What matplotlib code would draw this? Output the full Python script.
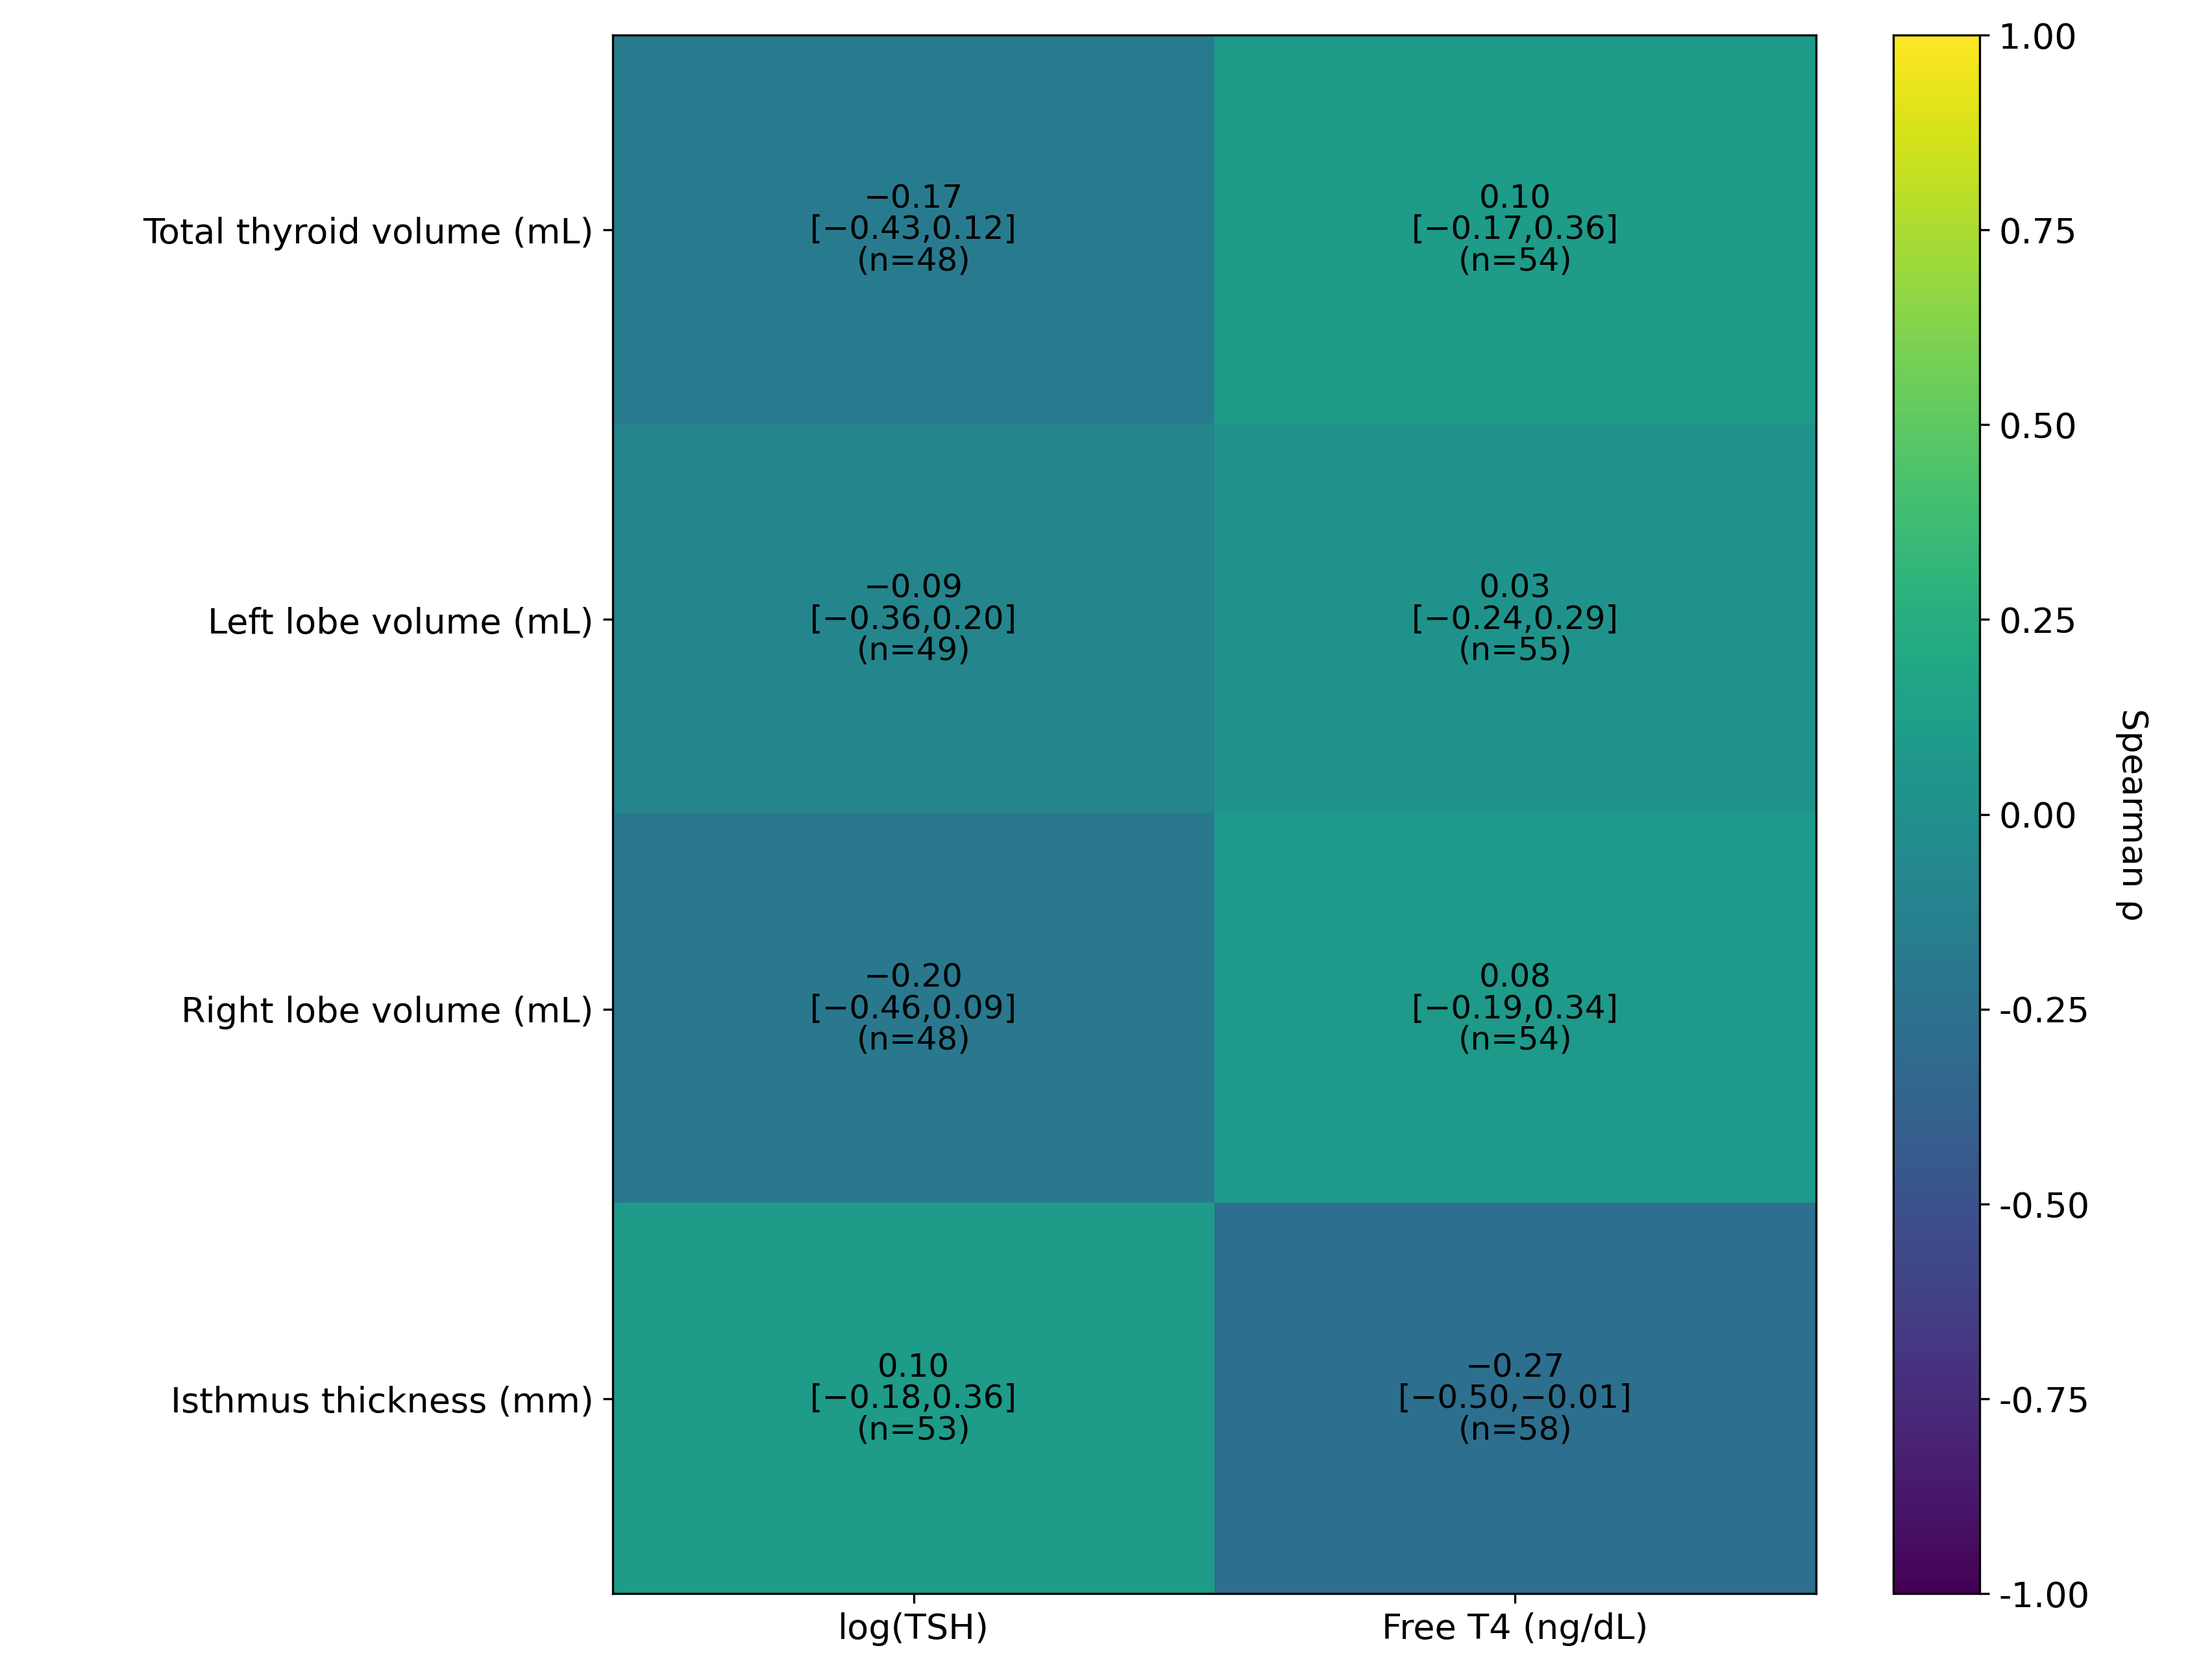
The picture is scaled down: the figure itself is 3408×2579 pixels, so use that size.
import matplotlib
matplotlib.use('Agg')
import matplotlib.pyplot as plt
import numpy as np
from matplotlib.ticker import FormatStrFormatter

rows = ['Total thyroid volume (mL)', 'Left lobe volume (mL)',
        'Right lobe volume (mL)', 'Isthmus thickness (mm)']
cols = ['log(TSH)', 'Free T4 (ng/dL)']
rho = np.array([[-0.17, 0.10], [-0.09, 0.03], [-0.20, 0.08], [0.10, -0.27]])
lo = np.array([[-0.43, -0.17], [-0.36, -0.24], [-0.46, -0.19], [-0.18, -0.50]])
hi = np.array([[0.12, 0.36], [0.20, 0.29], [0.09, 0.34], [0.36, -0.01]])
n = np.array([[48, 54], [49, 55], [48, 54], [53, 58]])


def fmt(v):
    return f'{v:.2f}'.replace('-', '\u2212')


fig = plt.figure(figsize=(11.36, 8.597), dpi=300)
ax = fig.add_axes([0.277, 0.048, 0.544, 0.931])
cax = fig.add_axes([0.856, 0.048, 0.039, 0.931])

im = ax.imshow(rho, cmap='viridis', vmin=-1, vmax=1, aspect='auto')
ax.set_xticks(range(len(cols)))
ax.set_xticklabels(cols, fontsize=13)
ax.set_yticks(range(len(rows)))
ax.set_yticklabels(rows, fontsize=13)

for i in range(len(rows)):
    for j in range(len(cols)):
        txt = f'{fmt(rho[i, j])}\n[{fmt(lo[i, j])},{fmt(hi[i, j])}]\n(n={n[i, j]})'
        ax.text(j, i, txt, ha='center', va='center', fontsize=12, linespacing=1.0)

cb = fig.colorbar(im, cax=cax)
cb.set_ticks(np.arange(-1, 1.01, 0.25))
cb.ax.yaxis.set_major_formatter(FormatStrFormatter('%.2f'))
cb.ax.tick_params(labelsize=13)
cb.set_label('Spearman ρ', rotation=270, labelpad=22, fontsize=13)

fig.savefig('out.png', dpi=300)
